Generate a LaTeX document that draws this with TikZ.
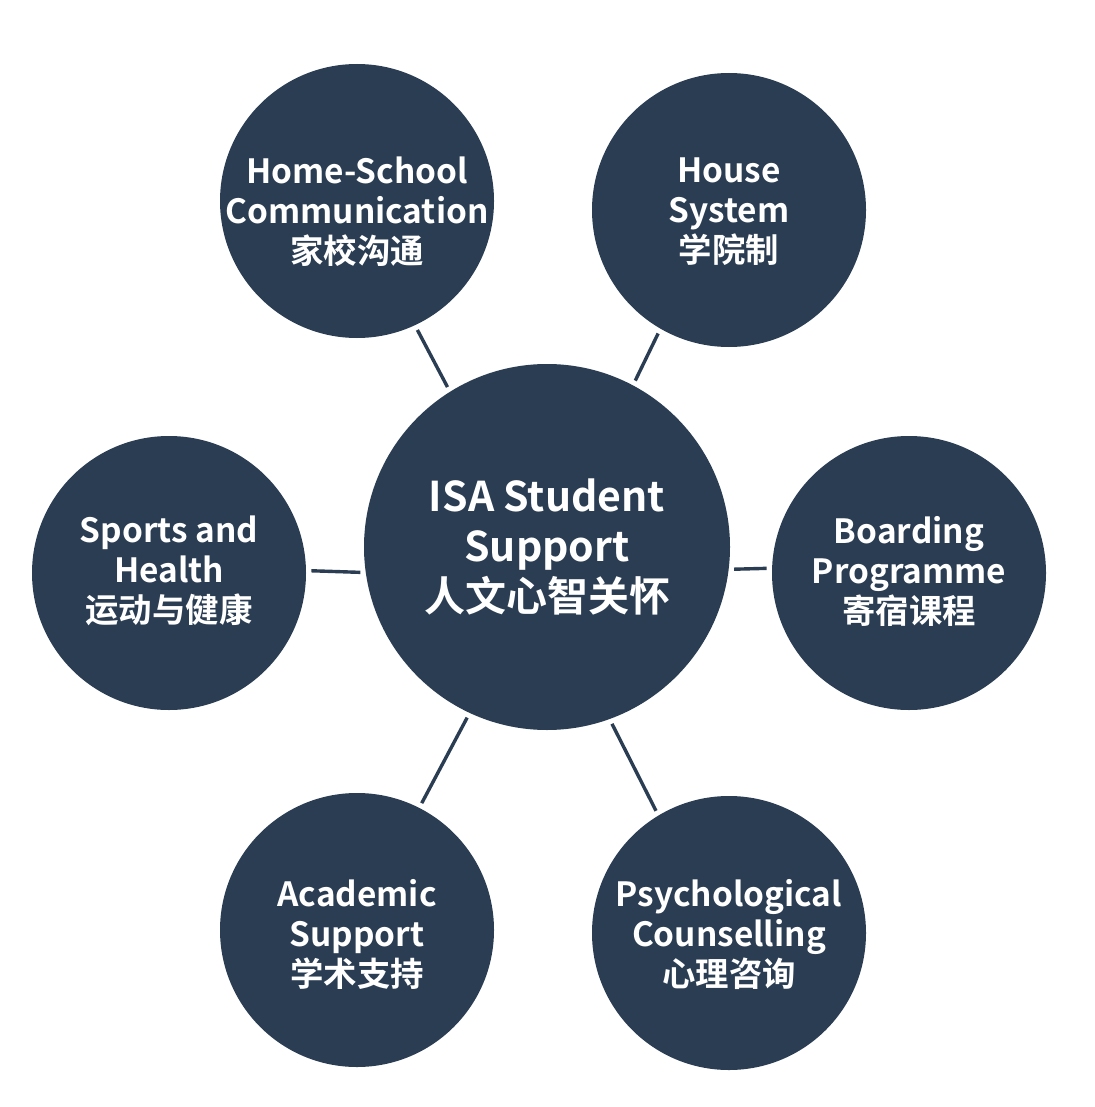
\documentclass[tikz,border=0pt]{standalone}
\usepackage{fontspec}
\setmainfont{Noto Sans CJK SC}[BoldFont={Noto Sans CJK SC Bold}]
\definecolor{navy}{HTML}{2B3D53}
\begin{document}
\begin{tikzpicture}[x=0.5pt,y=-0.5pt,
  hub/.style={circle,fill=navy,minimum size=183pt,inner sep=0pt},
  spoke/.style={circle,fill=navy,minimum size=137pt,inner sep=0pt},
  lbl/.style={text=white,align=center,inner sep=0pt,font=\bfseries\fontsize{16.7}{20}\selectfont},
  hublbl/.style={text=white,align=center,inner sep=0pt,font=\bfseries\fontsize{20.5}{25}\selectfont},
  link/.style={draw=navy,line width=1.7pt,shorten <=2.5pt,shorten >=2.5pt}]
\useasboundingbox[fill=white] (0,0) rectangle (1095,1107);
\node[hub] (hub) at (547,547) {};
\node[spoke] (home) at (357,201) {};
\node[spoke] (house) at (729,210) {};
\node[spoke] (sports) at (169,573) {};
\node[spoke] (board) at (909,573) {};
\node[spoke] (acad) at (357,930) {};
\node[spoke] (psy) at (729,933) {};
\node[hublbl] (hubt) at (547,547) {ISA Student\\Support\\人文心智关怀};
\node[lbl] (homet) at (357,212) {Home-School\\Communication\\家校沟通};
\node[lbl] (houset) at (729,212) {House\\System\\学院制};
\node[lbl] (sportst) at (169,571) {Sports and\\Health\\运动与健康};
\node[lbl] (boardt) at (909,571) {Boarding\\Programme\\寄宿课程};
\node[lbl] (acadt) at (357,934) {Academic\\Support\\学术支持};
\node[lbl] (psyt) at (729,934) {Psychological\\Counselling\\心理咨询};
\draw[link] (home.-65) -- (hub.122);
\draw[link] (house.-120) -- (hub.62);
\draw[link] (sports.1.25) -- (hub.-172.78);
\draw[link] (board.178.75) -- (hub.-7.22);
\draw[link] (acad.63) -- (hub.-115.5);
\draw[link] (psy.121) -- (hub.-70);
\end{tikzpicture}
\end{document}
